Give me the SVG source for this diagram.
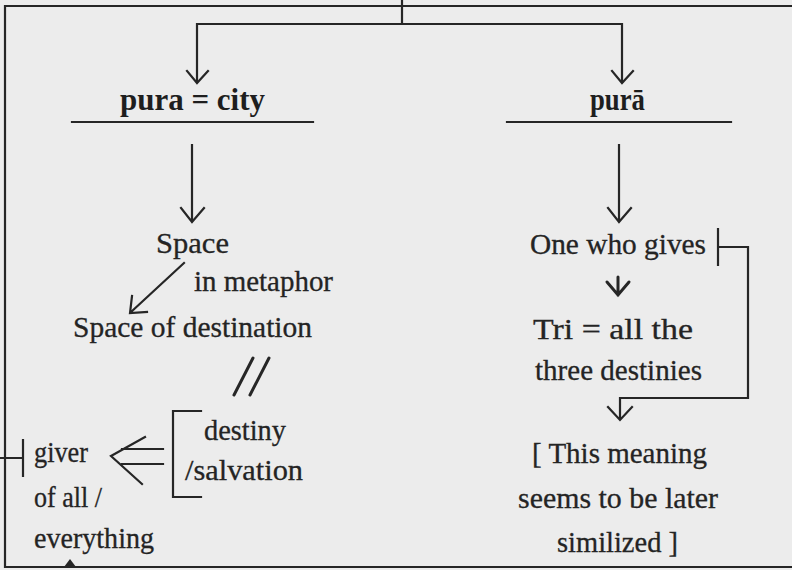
<svg xmlns="http://www.w3.org/2000/svg" width="792" height="570" viewBox="0 0 792 570">
<defs>
<style>
.bg{fill:#ececec}
.ln{fill:none;stroke:#262626;stroke-width:2.2;stroke-linecap:square}
.thk{fill:none;stroke:#262626;stroke-width:3;stroke-linecap:round;stroke-linejoin:miter}
.t{font-family:"Liberation Serif","Times New Roman",serif;font-size:29px;fill:#242424;stroke:#242424;stroke-width:0.3}
.h{font-family:"Liberation Serif","Times New Roman",serif;font-size:31px;fill:#1e1e1e;font-weight:bold}
</style>
</defs>
<rect class="bg" x="0" y="0" width="792" height="570"/>
<g id="frame">
<path class="ln" d="M5,6 H792 M5,6 V567 H792"/>
<polygon points="70,559 64,567 76,567" fill="#262626"/>
</g>
<g id="connectors">
<path class="ln" d="M402,0 V24 M197,24 H622 M197,24 V82 M622,24 V82"/>
<path class="ln" d="M187,71 L197,83 L208,71 M612,71 L622,83 L633,71"/>
<path class="ln" d="M72,122 H313 M507,122 H731"/>
<path class="ln" d="M192,145 V221 M181,208 L192,222 L204,208"/>
<path class="ln" d="M619,145 V221 M608,208 L619,222 L631,208"/>
<path class="ln" d="M184,263 L131,312 M132,296 L130,313 L147,312"/>
<path class="thk" d="M253,358 L234,395 M269,358 L250,395"/>
<path class="ln" d="M201,411 H173 V497 H201"/>
<path class="ln" d="M122,449 H163 M122,464 H163 M145,437 L111,456 L142,484"/>
<path class="ln" d="M0,458 H23 M23,440 V476"/>
<path class="thk" d="M618,277 V295 M607,282 L618,295 L629,282"/>
<path class="ln" d="M718,229 V265 M718,247 H748 V398 H620 V419 M608,407 L620,420 L632,407"/>
</g>
<g id="pura-city"><text class="h" x="120" y="110" textLength="145" lengthAdjust="spacingAndGlyphs">pura = city</text></g>
<g id="pura-long"><text class="h" x="590" y="110" textLength="55" lengthAdjust="spacingAndGlyphs">purā</text></g>
<g id="space"><text class="t" x="156" y="253" textLength="73" lengthAdjust="spacingAndGlyphs">Space</text></g>
<g id="in-metaphor"><text class="t" x="194" y="291" textLength="139" lengthAdjust="spacingAndGlyphs">in metaphor</text></g>
<g id="space-destination"><text class="t" x="73" y="337" textLength="239" lengthAdjust="spacingAndGlyphs">Space of destination</text></g>
<g id="destiny">
<text class="t" x="204" y="440" textLength="82" lengthAdjust="spacingAndGlyphs">destiny</text>
<text class="t" x="185" y="480" textLength="118" lengthAdjust="spacingAndGlyphs">/salvation</text>
</g>
<g id="giver">
<text class="t" x="34" y="462" textLength="54" lengthAdjust="spacingAndGlyphs">giver</text>
<text class="t" x="34" y="507" textLength="68" lengthAdjust="spacingAndGlyphs">of all /</text>
<text class="t" x="34" y="548" textLength="120" lengthAdjust="spacingAndGlyphs">everything</text>
</g>
<g id="one-who-gives"><text class="t" x="530" y="254" textLength="176" lengthAdjust="spacingAndGlyphs">One who gives</text></g>
<g id="tri">
<text class="t" x="533" y="339" textLength="160" lengthAdjust="spacingAndGlyphs">Tri  =  all the</text>
<text class="t" x="535" y="380" textLength="167" lengthAdjust="spacingAndGlyphs">three destinies</text>
</g>
<g id="meaning">
<text class="t" x="532" y="463" textLength="175" lengthAdjust="spacingAndGlyphs">[  This meaning</text>
<text class="t" x="518" y="508" textLength="200" lengthAdjust="spacingAndGlyphs">seems to be later</text>
<text class="t" x="557" y="552" textLength="121" lengthAdjust="spacingAndGlyphs">similized  ]</text>
</g>
</svg>
